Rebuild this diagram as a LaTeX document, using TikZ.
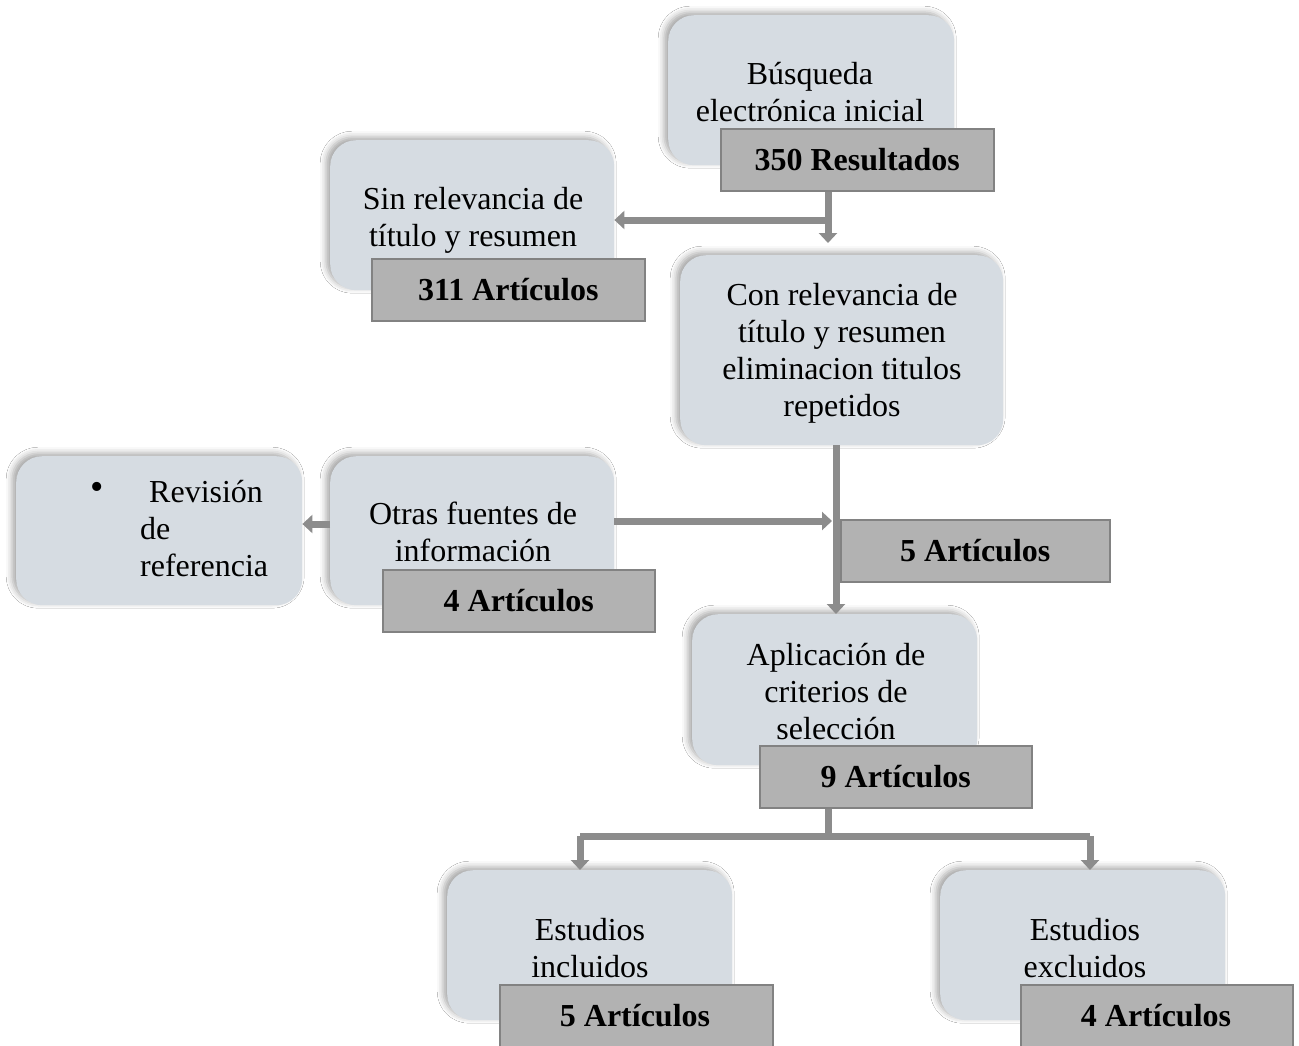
\documentclass[tikz,border=0pt]{standalone}
\usepackage{fontspec}
\setmainfont{Liberation Serif}
\usetikzlibrary{arrows.meta,shadows.blur}
\definecolor{boxfill}{RGB}{214,220,226}
\definecolor{labfill}{RGB}{178,178,178}
\definecolor{labdraw}{RGB}{130,130,130}
\definecolor{conncol}{RGB}{140,140,140}
\tikzset{
  x=1pt,y=1pt,
  roundbox/.style={rectangle, rounded corners=26pt, fill=boxfill, anchor=north west, inner sep=0pt,
    blur shadow={shadow xshift=-4pt, shadow yshift=3pt, shadow blur radius=6pt, shadow opacity=35}},
  labbox/.style={rectangle, fill=labfill, draw=labdraw, line width=1.5pt, anchor=north west, inner sep=0pt},
  labtxt/.style={inner sep=0pt, font=\fontsize{32}{37}\selectfont\bfseries},
  txt/.style={align=center, inner sep=0pt, font=\fontsize{32}{37}\selectfont},
  conn/.style={draw=conncol, line width=7pt},
  arr/.style={conn, -{Triangle[width=18pt,length=10pt]}}
}
\begin{document}
\begin{tikzpicture}
\useasboundingbox (0,0) rectangle (1299,-1045);
\fill[white] (0,0) rectangle (1299,-1045);
% rounded boxes
\node[roundbox, minimum width=286, minimum height=150] (bus) at (668,-15) {};
\node[roundbox, minimum width=284, minimum height=150] (sin) at (330,-140) {};
\node[roundbox, minimum width=323, minimum height=190] (con) at (680,-255) {};
\node[roundbox, minimum width=286, minimum height=149] (rev) at (16,-456) {};
\node[roundbox, minimum width=284, minimum height=149] (otr) at (330,-456) {};
\node[roundbox, minimum width=285, minimum height=151] (apl) at (692,-614) {};
\node[roundbox, minimum width=285, minimum height=150] (inc) at (447,-870) {};
\node[roundbox, minimum width=285, minimum height=150] (exc) at (940,-870) {};
% texts
\node[txt] (tbus) at (810,-92) {Búsqueda\\electrónica inicial};
\node[txt] (tsin) at (473,-220) {Sin relevancia de\\título y resumen};
\node[txt] (tcon) at (842,-353) {Con relevancia de\\título y resumen\\eliminacion titulos\\repetidos};
\node[txt, font=\fontsize{38}{37}\selectfont] (bul) at (97,-491) {•};
\node[txt, align=left, anchor=west] (trev) at (140,-529) {\hspace*{9pt}Revisión\\de\\referencia};
\node[txt] (totr) at (473,-532) {Otras fuentes de\\información};
\node[txt] (tapl) at (836,-692) {Aplicación de\\criterios de\\selección};
\node[txt] (tinc) at (590,-948) {Estudios\\incluidos};
\node[txt] (texc) at (1085,-948) {Estudios\\excluidos};
% connectors
\coordinate (j1) at (828,-220);
\coordinate (j3) at (836,-521);
\coordinate (b1) at (580,-836);
\coordinate (b2) at (1090,-836);
\draw[conn] (828,-188) coordinate (r0) -- (j1);
\draw[arr, shorten >=12pt] (j1) -- (j1 |- con.north);
\draw[arr] (j1) -- (j1 -| sin.east);
\draw[arr] (con.south -| j3) -- (j3 |- apl.north);
\draw[arr, shorten >=4pt] (otr.east |- j3) -- (j3);
\draw[arr] (otr.west |- 0,-524) -- (rev.east |- 0,-524);
\draw[conn] (828,-805) coordinate (n0) -- (828,-836);
\draw[conn] (b1) -- (b2);
\draw[arr] (b1) -- (b1 |- inc.north);
\draw[arr] (b2) -- (b2 |- exc.north);
% label boxes
\node[labbox, minimum width=273, minimum height=62] (res) at (720,-128) {};
\node[labtxt] at (res.center) (tres) {350 Resultados};
\node[labbox, minimum width=273, minimum height=62] (a311) at (371,-258) {};
\node[labtxt] at (a311.center) (t311) {311 Artículos};
\node[labbox, minimum width=269, minimum height=62] (a5m) at (840,-519) {};
\node[labtxt] at (a5m.center) (t5m) {5 Artículos};
\node[labbox, minimum width=272, minimum height=62] (a4m) at (382,-569) {};
\node[labtxt] at (a4m.center) (t4m) {4 Artículos};
\node[labbox, minimum width=272, minimum height=62] (a9) at (759,-745) {};
\node[labtxt] at (a9.center) (t9) {9 Artículos};
\node[labbox, minimum width=273, minimum height=70] (a5b) at (499,-984) {};
\node[labtxt] at (635,-1016) (t5b) {5 Artículos};
\node[labbox, minimum width=272, minimum height=70] (a4b) at (1020,-984) {};
\node[labtxt] at (1156,-1016) (t4b) {4 Artículos};
\end{tikzpicture}
\end{document}
